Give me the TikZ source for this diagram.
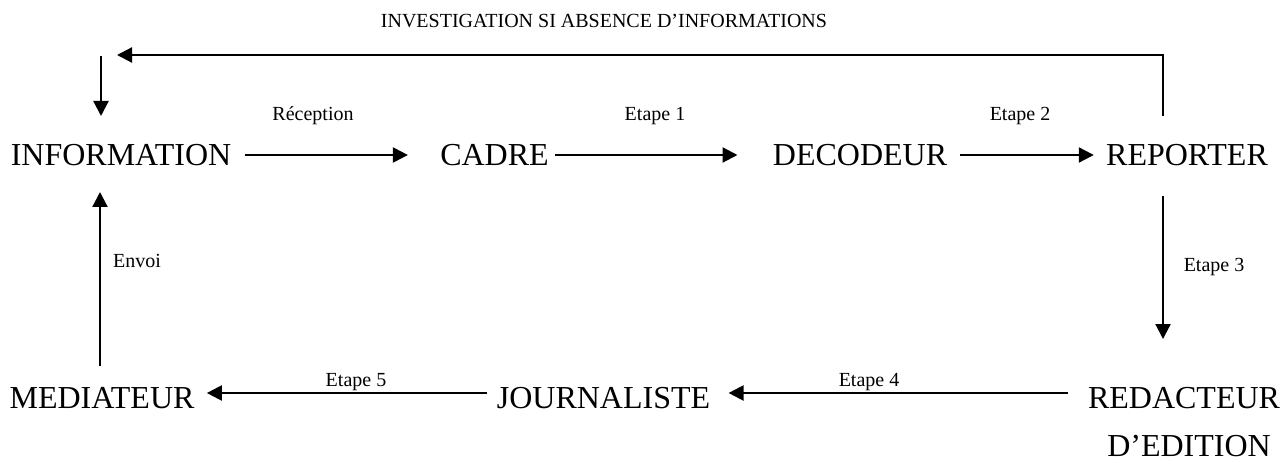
\documentclass[tikz,border=0pt]{standalone}
\usepackage{fontspec}
\setmainfont{Liberation Serif}
\usetikzlibrary{arrows.meta}
\begin{document}
\begin{tikzpicture}[x=0.5pt,y=-0.5pt,
  mainbox/.style={inner sep=0pt,text height=10.6pt,text depth=0pt,font=\fontsize{16}{19}\selectfont},
  lbl/.style={inner sep=0pt,anchor=base,font=\fontsize{10}{12}\selectfont},
  arr/.style={line width=1.1pt,-{Triangle[length=7.5pt,width=7.5pt]}},
  ln/.style={line width=1.1pt}]
\useasboundingbox (0,0) rectangle (1288,464);
% main nodes
\node[mainbox] (info) at (121,155) {INFORMATION};
\node[mainbox] (cadre) at (494.5,155) {CADRE};
\node[mainbox] (deco) at (860,155) {DECODEUR};
\node[mainbox] (rep) at (1187,155) {REPORTER};
\node[mainbox] (med) at (102,398) {MEDIATEUR};
\node[mainbox] (jour) at (603.5,398) {JOURNALISTE};
\node[mainbox] (red) at (1184,398) {REDACTEUR};
\node[mainbox] (redb) at (1189,446) {D’EDITION};
% labels
\node[lbl] (ltop) at (604,28) {INVESTIGATION SI ABSENCE D’INFORMATIONS};
\node[lbl] (lrec) at (313,121) {Réception};
\node[lbl] (le1) at (655,121) {Etape 1};
\node[lbl] (le2) at (1020,121) {Etape 2};
\node[lbl] (le3) at (1214,272) {Etape 3};
\node[lbl] (lenv) at (137,268) {Envoi};
\node[lbl] (le5) at (356,386) {Etape 5};
\node[lbl] (le4) at (869,386) {Etape 4};
% helper coordinates
\coordinate (c1) at (1163,55);
\coordinate (c3) at (117,55);
\coordinate (c2) at (101,56);
\coordinate (c4) at (100,0);
% connectors
\draw[arr,shorten <=6.5pt,shorten >=16pt] (info.east) -- (cadre.west);
\draw[arr,shorten <=3pt,shorten >=17.5pt] (cadre.east) -- (deco.west);
\draw[arr,shorten <=6pt,shorten >=6pt] (deco.east) -- (rep.west);
\draw[arr,shorten <=15pt,shorten >=24pt] (rep.south -| c1) -- (red.north -| c1);
\draw[arr,shorten <=10pt,shorten >=9pt] ([yshift=2.5pt]red.west) -- ([yshift=2.5pt]jour.east);
\draw[arr,shorten <=4.5pt,shorten >=6pt] ([yshift=2.5pt]jour.west) -- ([yshift=2.5pt]med.east);
\draw[arr,shorten <=10.5pt,shorten >=13pt] (med.north -| c4) -- (info.south -| c4);
\draw[ln,-{Triangle[length=7.5pt,width=7.5pt]},shorten <=14pt] (rep.north -| c1) -- (c1) -- (c3);
\draw[arr,shorten >=14pt] (c2) -- (info.north -| c2);
\end{tikzpicture}
\end{document}
